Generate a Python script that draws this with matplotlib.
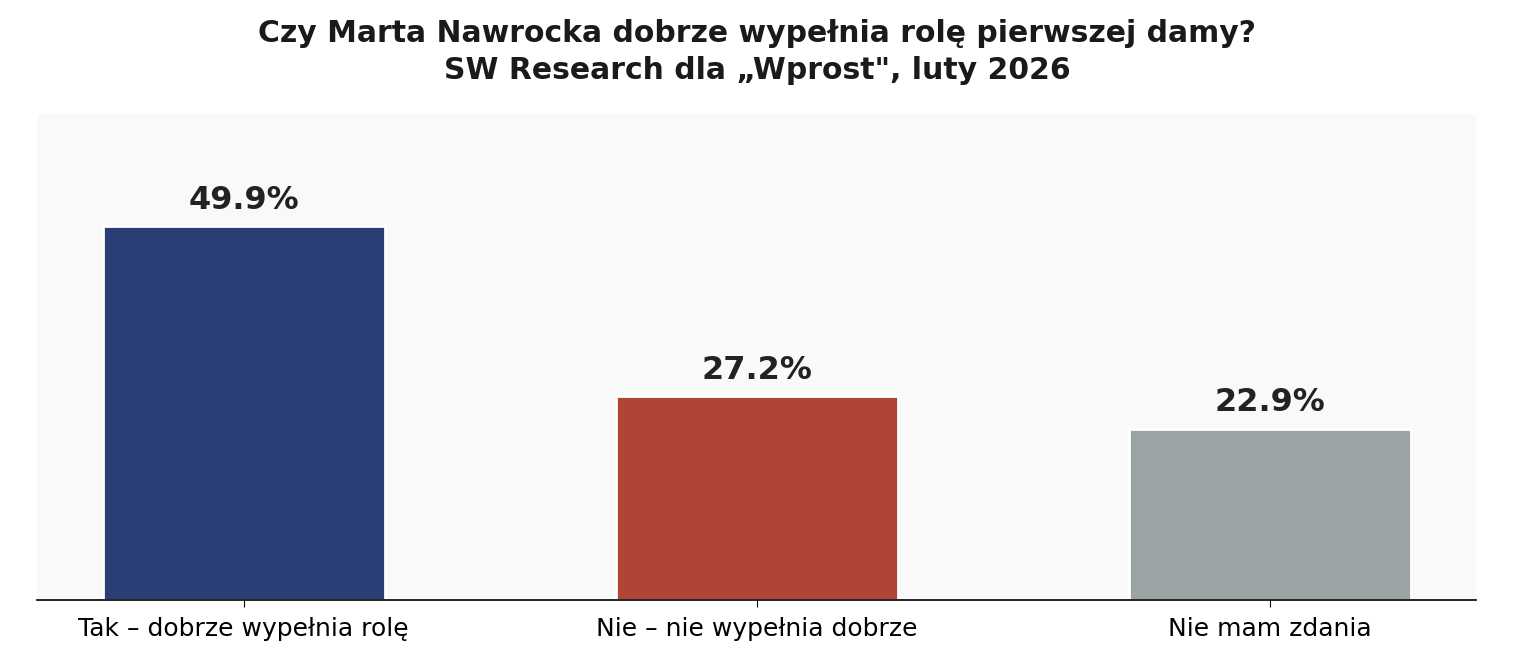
import matplotlib
matplotlib.use('Agg')
import matplotlib.pyplot as plt

categories = ['Tak – dobrze wypełnia rolę', 'Nie – nie wypełnia dobrze', 'Nie mam zdania']
values = [49.9, 27.2, 22.9]
colors = ['#283e74', '#b04535', '#9aa4a5']

fig, ax = plt.subplots(figsize=(15.14, 6.67), dpi=100)
fig.subplots_adjust(left=0.0245, right=0.975, top=0.829, bottom=0.10)
ax.set_facecolor('#f9f9f9')

x = range(len(categories))
bars = ax.bar(x, values, width=0.55, color=colors, edgecolor='white', linewidth=2)

for b, v in zip(bars, values):
    ax.text(b.get_x() + b.get_width() / 2, v + 1.4, f'{v:.1f}%',
            ha='center', va='bottom', fontsize=23, fontweight='bold', color='#222222')

ax.set_ylim(0, max(values) * 1.3)
ax.set_xticks(list(x))
ax.set_xticklabels(categories, fontsize=18)
ax.tick_params(axis='x', length=5, pad=7)
ax.set_yticks([])
for s in ['top', 'right', 'left']:
    ax.spines[s].set_visible(False)
ax.spines['bottom'].set_linewidth(1.2)

fig.suptitle('Czy Marta Nawrocka dobrze wypełnia rolę pierwszej damy?\nSW Research dla „Wprost", luty 2026',
             fontsize=21.5, fontweight='bold', color='#1a1a1a', y=0.972, linespacing=1.35)

fig.savefig('out.png', dpi=100)
